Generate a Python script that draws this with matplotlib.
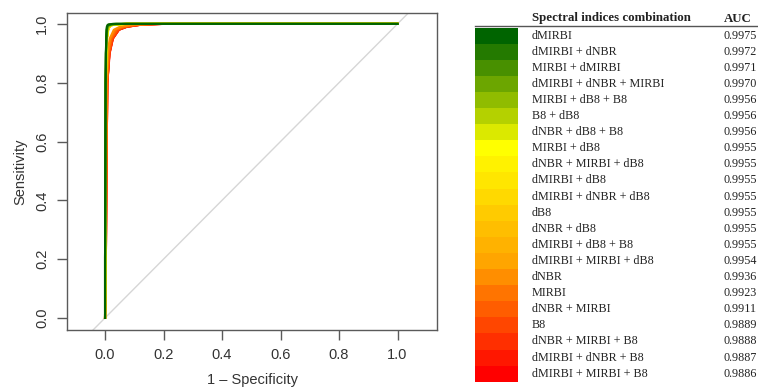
import matplotlib
matplotlib.use("Agg")
import matplotlib.pyplot as plt
from matplotlib.colors import LinearSegmentedColormap, to_hex
from matplotlib.patches import Rectangle

# ---------------- data ----------------
combinations = [
    "dMIRBI", "dMIRBI + dNBR", "MIRBI + dMIRBI", "dMIRBI + dNBR + MIRBI",
    "MIRBI + dB8 + B8", "B8 + dB8", "dNBR + dB8 + B8", "MIRBI + dB8",
    "dNBR + MIRBI + dB8", "dMIRBI + dB8", "dMIRBI + dNBR + dB8", "dB8",
    "dNBR + dB8", "dMIRBI + dB8 + B8", "dMIRBI + MIRBI + dB8", "dNBR",
    "MIRBI", "dNBR + MIRBI", "B8", "dNBR + MIRBI + B8", "dMIRBI + dNBR + B8",
    "dMIRBI + MIRBI + B8",
]
auc = ["0.9975", "0.9972", "0.9971", "0.9970", "0.9956", "0.9956", "0.9956",
       "0.9955", "0.9955", "0.9955", "0.9955", "0.9955", "0.9955", "0.9955",
       "0.9954", "0.9936", "0.9923", "0.9911", "0.9889", "0.9888", "0.9887",
       "0.9886"]

# sensitivity levels at which the false-positive rate of each curve was read
tpr_levels = [0.0, 0.2, 0.5, 0.8, 0.9, 0.95, 0.98, 0.99, 0.997, 1.0, 1.0]

fpr_dMIRBI              = [0, 0.000, 0.001, 0.002, 0.003, 0.004, 0.005, 0.006, 0.009, 0.025, 1]
fpr_dMIRBI_dNBR         = [0, 0.000, 0.001, 0.002, 0.003, 0.004, 0.006, 0.007, 0.011, 0.030, 1]
fpr_MIRBI_dMIRBI        = [0, 0.000, 0.001, 0.002, 0.003, 0.005, 0.006, 0.008, 0.012, 0.035, 1]
fpr_dMIRBI_dNBR_MIRBI   = [0, 0.000, 0.001, 0.002, 0.003, 0.005, 0.007, 0.009, 0.013, 0.040, 1]
fpr_MIRBI_dB8_B8        = [0, 0.001, 0.002, 0.003, 0.004, 0.005, 0.008, 0.011, 0.020, 0.060, 1]
fpr_B8_dB8              = [0, 0.001, 0.002, 0.003, 0.004, 0.006, 0.009, 0.012, 0.021, 0.065, 1]
fpr_dNBR_dB8_B8         = [0, 0.001, 0.002, 0.003, 0.004, 0.006, 0.009, 0.012, 0.022, 0.065, 1]
fpr_MIRBI_dB8           = [0, 0.001, 0.002, 0.003, 0.004, 0.006, 0.010, 0.013, 0.023, 0.070, 1]
fpr_dNBR_MIRBI_dB8      = [0, 0.001, 0.002, 0.003, 0.004, 0.006, 0.010, 0.013, 0.023, 0.070, 1]
fpr_dMIRBI_dB8          = [0, 0.001, 0.002, 0.003, 0.004, 0.006, 0.010, 0.013, 0.024, 0.070, 1]
fpr_dMIRBI_dNBR_dB8     = [0, 0.001, 0.002, 0.003, 0.004, 0.006, 0.010, 0.014, 0.024, 0.075, 1]
fpr_dB8                 = [0, 0.001, 0.002, 0.003, 0.004, 0.006, 0.010, 0.014, 0.025, 0.075, 1]
fpr_dNBR_dB8            = [0, 0.001, 0.002, 0.003, 0.004, 0.006, 0.010, 0.014, 0.025, 0.075, 1]
fpr_dMIRBI_dB8_B8       = [0, 0.001, 0.002, 0.003, 0.004, 0.006, 0.011, 0.015, 0.026, 0.080, 1]
fpr_dMIRBI_MIRBI_dB8    = [0, 0.001, 0.002, 0.003, 0.004, 0.007, 0.011, 0.015, 0.027, 0.080, 1]
fpr_dNBR                = [0, 0.002, 0.003, 0.005, 0.009, 0.016, 0.030, 0.050, 0.090, 0.160, 1]
fpr_MIRBI               = [0, 0.002, 0.004, 0.006, 0.011, 0.019, 0.035, 0.058, 0.100, 0.175, 1]
fpr_dNBR_MIRBI          = [0, 0.003, 0.004, 0.007, 0.013, 0.022, 0.040, 0.065, 0.110, 0.185, 1]
fpr_B8                  = [0, 0.003, 0.005, 0.008, 0.015, 0.026, 0.046, 0.072, 0.120, 0.200, 1]
fpr_dNBR_MIRBI_B8       = [0, 0.003, 0.005, 0.008, 0.015, 0.026, 0.047, 0.073, 0.121, 0.200, 1]
fpr_dMIRBI_dNBR_B8      = [0, 0.003, 0.005, 0.008, 0.015, 0.027, 0.047, 0.074, 0.122, 0.200, 1]
fpr_dMIRBI_MIRBI_B8     = [0, 0.003, 0.005, 0.008, 0.016, 0.027, 0.048, 0.075, 0.123, 0.205, 1]

curves_fpr = [
    fpr_dMIRBI, fpr_dMIRBI_dNBR, fpr_MIRBI_dMIRBI, fpr_dMIRBI_dNBR_MIRBI,
    fpr_MIRBI_dB8_B8, fpr_B8_dB8, fpr_dNBR_dB8_B8, fpr_MIRBI_dB8,
    fpr_dNBR_MIRBI_dB8, fpr_dMIRBI_dB8, fpr_dMIRBI_dNBR_dB8, fpr_dB8,
    fpr_dNBR_dB8, fpr_dMIRBI_dB8_B8, fpr_dMIRBI_MIRBI_dB8, fpr_dNBR,
    fpr_MIRBI, fpr_dNBR_MIRBI, fpr_B8, fpr_dNBR_MIRBI_B8, fpr_dMIRBI_dNBR_B8,
    fpr_dMIRBI_MIRBI_B8,
]

x_ticks = [0.0, 0.2, 0.4, 0.6, 0.8, 1.0]
y_ticks = [0.0, 0.2, 0.4, 0.6, 0.8, 1.0]

# ---------------- colours ----------------
n = len(combinations)
ramp = LinearSegmentedColormap.from_list(
    "ramp", ["#006400", "#FFFF00", "#FFA500", "#FF0000"])
colors = [to_hex(ramp(i / (n - 1))) for i in range(n)]

# ---------------- figure ----------------
W, H = 758, 387
fig = plt.figure(figsize=(W / 100, H / 100), dpi=100)
fig.patch.set_facecolor("white")

ax = fig.add_axes([67 / W, 1 - 330 / H, 370 / W, 317 / H])
ax.set_xlim(-0.13, 1.135)
ax.set_ylim(-0.041, 1.037)

ax.plot([-0.3, 1.3], [-0.3, 1.3], color="#d6d6d6", lw=1.0, zorder=1)
for i in reversed(range(n)):
    ax.plot(curves_fpr[i], tpr_levels, color=colors[i], lw=1.5,
            solid_joinstyle="round", zorder=2)

gray = "#5a5a5a"
for s in ax.spines.values():
    s.set_color(gray)
    s.set_linewidth(1.0)
ax.set_xticks(x_ticks)
ax.set_yticks(y_ticks)
ax.set_xticklabels([f"{v:.1f}" for v in x_ticks])
ax.set_yticklabels([f"{v:.1f}" for v in y_ticks], rotation=90, va="center")
ax.tick_params(axis="both", direction="out", length=7, width=1.0,
               color=gray, labelcolor="#333333", labelsize=10.5, pad=6)
for lab in ax.get_xticklabels() + ax.get_yticklabels():
    lab.set_family("Liberation Sans")

fig.text(20 / W, 1 - 172 / H, "Sensitivity", rotation=90, ha="center",
         va="center", fontsize=10.5, color="#333333", family="Liberation Sans")
fig.text(252 / W, 1 - 380 / H, "1 \u2013 Specificity", ha="center",
         va="center", fontsize=10.5, color="#333333", family="Liberation Sans")

# ---------------- table legend ----------------
lg = fig.add_axes([0, 0, 1, 1], zorder=5)
lg.set_xlim(0, W)
lg.set_ylim(H, 0)
lg.axis("off")
lg.patch.set_alpha(0)

row_top = 27.5
row_h = 16.1
serif = "Liberation Serif"
fs = 8.7
lg.plot([475, 758], [26, 26], color="#555555", lw=1.0)
lg.text(532, 18.5, "Spectral indices combination", ha="left", va="center",
        fontsize=9.3, fontweight="bold", family=serif, color="#222222")
lg.text(724, 18.5, "AUC", ha="left", va="center", fontsize=9.3,
        fontweight="bold", family=serif, color="#222222")
for i in range(n):
    y0 = row_top + i * row_h
    lg.add_patch(Rectangle((475, y0), 42.5, row_h + 0.3, facecolor=colors[i],
                           edgecolor="none"))
    lg.text(532, y0 + row_h / 2, combinations[i], ha="left", va="center",
            fontsize=fs, family=serif, color="#222222")
    lg.text(724, y0 + row_h / 2, auc[i], ha="left", va="center",
            fontsize=fs, family=serif, color="#222222")

fig.savefig("out.png", dpi=100)
